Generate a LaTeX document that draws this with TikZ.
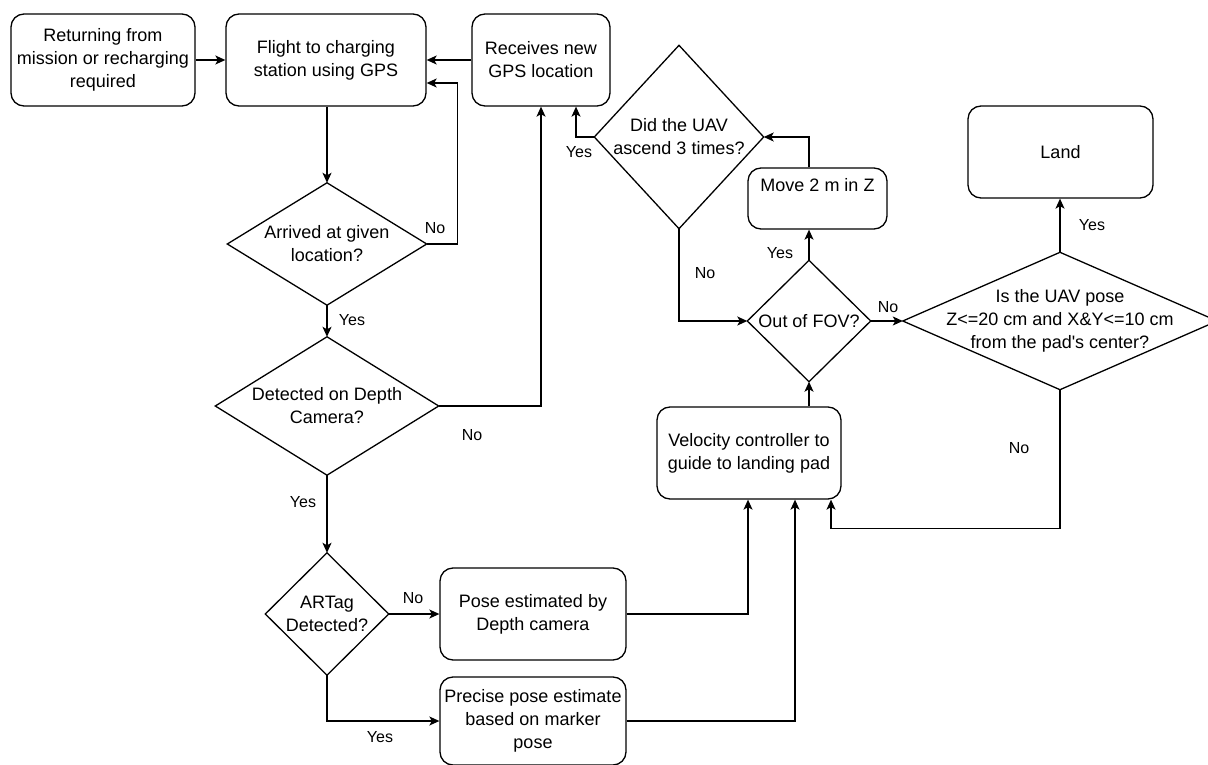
\documentclass[tikz,border=0pt]{standalone}
\usepackage{fontspec}
\setmainfont{Liberation Sans}[Ligatures=TeXOff]
\usetikzlibrary{arrows.meta,calc}
\begin{document}
\begin{tikzpicture}[x=1pt,y=-1pt,
  line/.style={draw=black,line width=1.3pt},
  arr/.style={line,-{Stealth[length=10pt,width=9pt,inset=2.5pt]}},
  proc/.style={line,rectangle,rounded corners=13pt,align=center,inner sep=2pt,
     font=\fontsize{18}{23}\selectfont,minimum width=#1},
  dec/.style={rectangle,align=center,inner sep=0pt,font=\fontsize{18}{23}\selectfont},
  lbl/.style={font=\fontsize{16}{19}\selectfont,inner sep=0pt}]
\useasboundingbox (0,0) rectangle (1208,765);

% process boxes
\node[proc=184pt,minimum height=92pt] (b1) at (103,60) {Returning from\\mission or recharging\\required};
\node[proc=200pt,minimum height=92pt] (b2) at (326,60) {Flight to charging\\station using GPS};
\node[proc=138pt,minimum height=92pt] (b3) at (541,60) {Receives new\\GPS location};
\node[proc=186pt,minimum height=92pt] (b4) at (533,614) {Pose estimated by\\Depth camera};
\node[proc=186pt,minimum height=88pt] (b5) at (533,721) {Precise pose estimate\\based on marker\\pose};
\node[proc=184pt,minimum height=92pt] (v) at (749,453) {Velocity controller to\\guide to landing pad};
\node[proc=139pt,minimum height=61pt,text height=13pt,text depth=26pt] (mv) at (817.5,198.5) {Move 2 m in Z};
\node[proc=185pt,minimum height=92pt] (land) at (1060.5,152) {Land};

% decisions
\node[dec,minimum width=199pt,minimum height=122pt] (d1) at (327,244) {Arrived at given\\location?};
\node[dec,minimum width=223pt,minimum height=138pt] (d2) at (327,406) {Detected on Depth\\Camera?};
\node[dec,minimum width=123pt,minimum height=122pt] (d3) at (327,614) {ARTag\\Detected?};
\node[dec,minimum width=169pt,minimum height=183pt] (did) at (679,137) {Did the UAV\\ascend 3 times?};
\node[dec,minimum width=123pt,minimum height=121pt] (fov) at (809,321) {Out of FOV?};
\node[dec,minimum width=314pt,minimum height=137pt] (big) at (1060,321) {Is the UAV pose\\Z<=20 cm and X\&Y<=10 cm\\from the pad's center?};
\foreach \n in {d1,d2,d3,did,fov,big}
  \draw[line,line join=miter] (\n.north) -- (\n.east) -- (\n.south) -- (\n.west) -- cycle;

% connectors
\draw[arr] (b1.east) -- (b2.west);
\draw[arr] (b3.west) -- (b2.east);
\draw[arr] (b2.south -| d1.north) -- (d1.north);
\draw[arr] (d1.east) -- ++(31,0) |- ([yshift=-23pt]b2.east);
\draw[arr] (d1.south) -- (d2.north);
\draw[arr] (d2.east) -| (b3.south);
\draw[arr] (d2.south) -- (d3.north);
\draw[arr] (d3.east) -- (b4.west);
\draw[arr] (d3.south) |- (b5.west);
\draw[arr] (b4.east) -| ([xshift=-1pt]v.south);
\draw[arr] (b5.east) -| ([xshift=46pt]v.south);
\draw[arr] (fov.south |- v.north) -- (fov.south);
\draw[arr] (fov.north) -- (fov.north |- mv.south);
\draw[arr] (fov.north |- mv.north) |- (did.east);
\draw[arr] (did.west) -| ([xshift=35pt]b3.south);
\draw[arr] (did.south) |- (fov.west);
\draw[arr] (fov.east) -- (big.west);
\draw[arr] (big.north) -- (big.north |- land.south);
\draw[arr] (big.south) -- ++(0,139) -| ([xshift=82pt]v.south);

% labels
\node[lbl] (l1) at (435,228) {No};
\node[lbl] (l2) at (352,320) {Yes};
\node[lbl] (l3) at (472,435) {No};
\node[lbl] (l4) at (303,502) {Yes};
\node[lbl] (l5) at (413,598) {No};
\node[lbl] (l6) at (380,737) {Yes};
\node[lbl] (l7) at (705,273) {No};
\node[lbl] (l8) at (579,152) {Yes};
\node[lbl] (l9) at (780,253) {Yes};
\node[lbl] (l10) at (888,307) {No};
\node[lbl] (l11) at (1092,225) {Yes};
\node[lbl] (l12) at (1019,448) {No};
\end{tikzpicture}
\end{document}
